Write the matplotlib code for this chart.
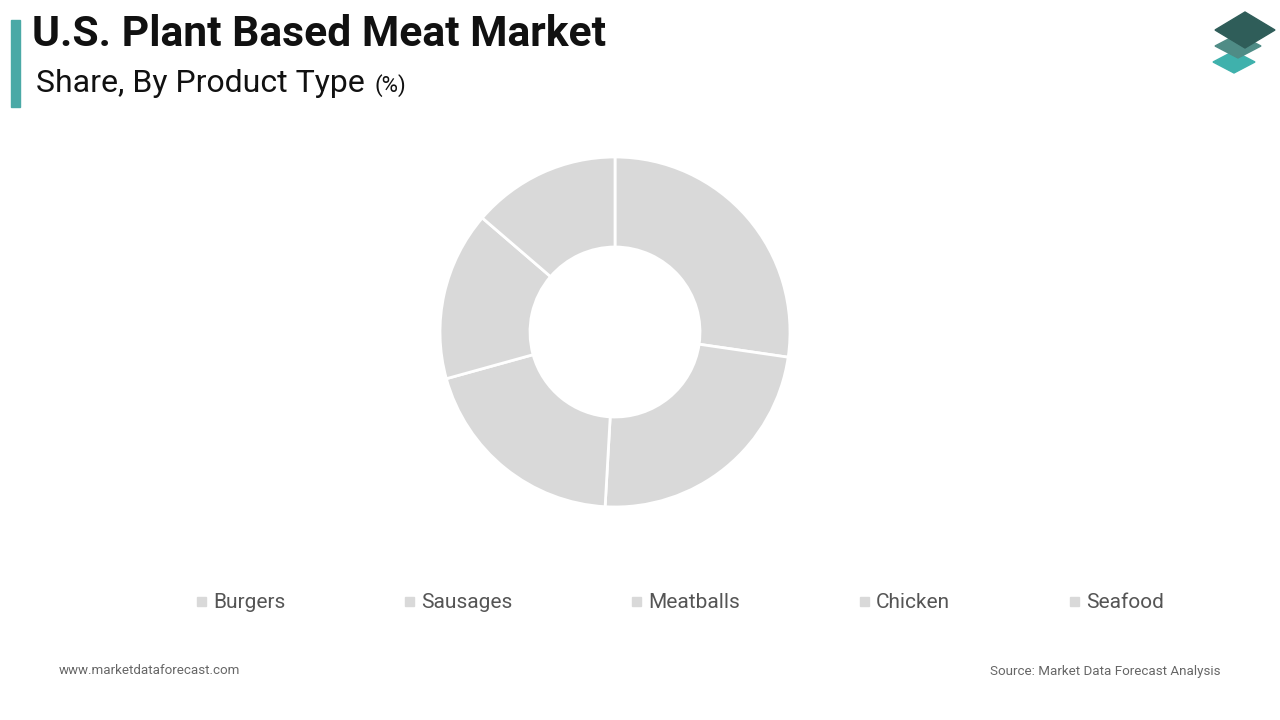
import matplotlib
matplotlib.use("Agg")
import matplotlib.pyplot as plt
from matplotlib.patches import Polygon, Rectangle

categories = ["Burgers", "Sausages", "Meatballs", "Chicken", "Seafood"]
shares = [27.3, 23.6, 19.8, 15.6, 13.7]

fig = plt.figure(figsize=(12.8, 7.2), dpi=100)
fig.patch.set_facecolor("white")

# title block
fig.patches.append(Rectangle((11/1280, 1-107/720), 9/1280, 87/720, transform=fig.transFigure,
                             color="#4aa9a6", zorder=5))
fig.text(32/1280, 1-35/720, "U.S. Plant Based Meat Market", fontsize=30.7, fontweight="bold",
         family="Roboto", va="center", color="#111111")
fig.text(36/1280, 1-84/720, "Share, By Product Type", fontsize=23, family="Roboto", va="center", color="#111111")
fig.text(374/1280, 1-86/720, "(%)", fontsize=16, family="Roboto", va="center", color="#111111")

# logo
def rhomb(cx, cy, w, h, c):
    pts = [(cx - w/2, cy), (cx, cy + h/2), (cx + w/2, cy), (cx, cy - h/2)]
    pts = [(x/1280, 1 - y/720) for x, y in pts]
    fig.patches.append(Polygon(pts, closed=True, transform=fig.transFigure, color=c, zorder=5))
rhomb(1234, 62, 42, 22, "#3fb1ac")
rhomb(1238, 46, 46, 24, "#4f8c86")
rhomb(1245, 30, 60, 36, "#2f5d59")

ax = fig.add_axes([(615-180)/1280, 1-(332+180)/720, 360/1280, 360/720])
ax.pie(shares, startangle=90, counterclock=False, colors=["#d9d9d9"]*5,
       wedgeprops=dict(width=0.5, edgecolor="white", linewidth=2), radius=175/180)
ax.set_xlim(-1, 1); ax.set_ylim(-1, 1); ax.set_aspect("equal"); ax.axis("off")

xs = [197, 405, 632, 860, 1070]
for x, c in zip(xs, categories):
    fig.patches.append(Rectangle((x/1280, 1-606/720), 9/1280, 9/720, transform=fig.transFigure,
                                 color="#d9d9d9"))
    fig.text((x+16)/1280, 1-602/720, c, fontsize=15, family="Roboto", va="center", color="#555555")

fig.text(59/1280, 1-671/720, "www.marketdataforecast.com", fontsize=9.6, family="Roboto", va="center", color="#666666")
fig.text(1220/1280, 1-671/720, "Source: Market Data Forecast Analysis", fontsize=9.6, family="Roboto",
         va="center", ha="right", color="#666666")

fig.savefig("out.png", dpi=100, facecolor="white")
